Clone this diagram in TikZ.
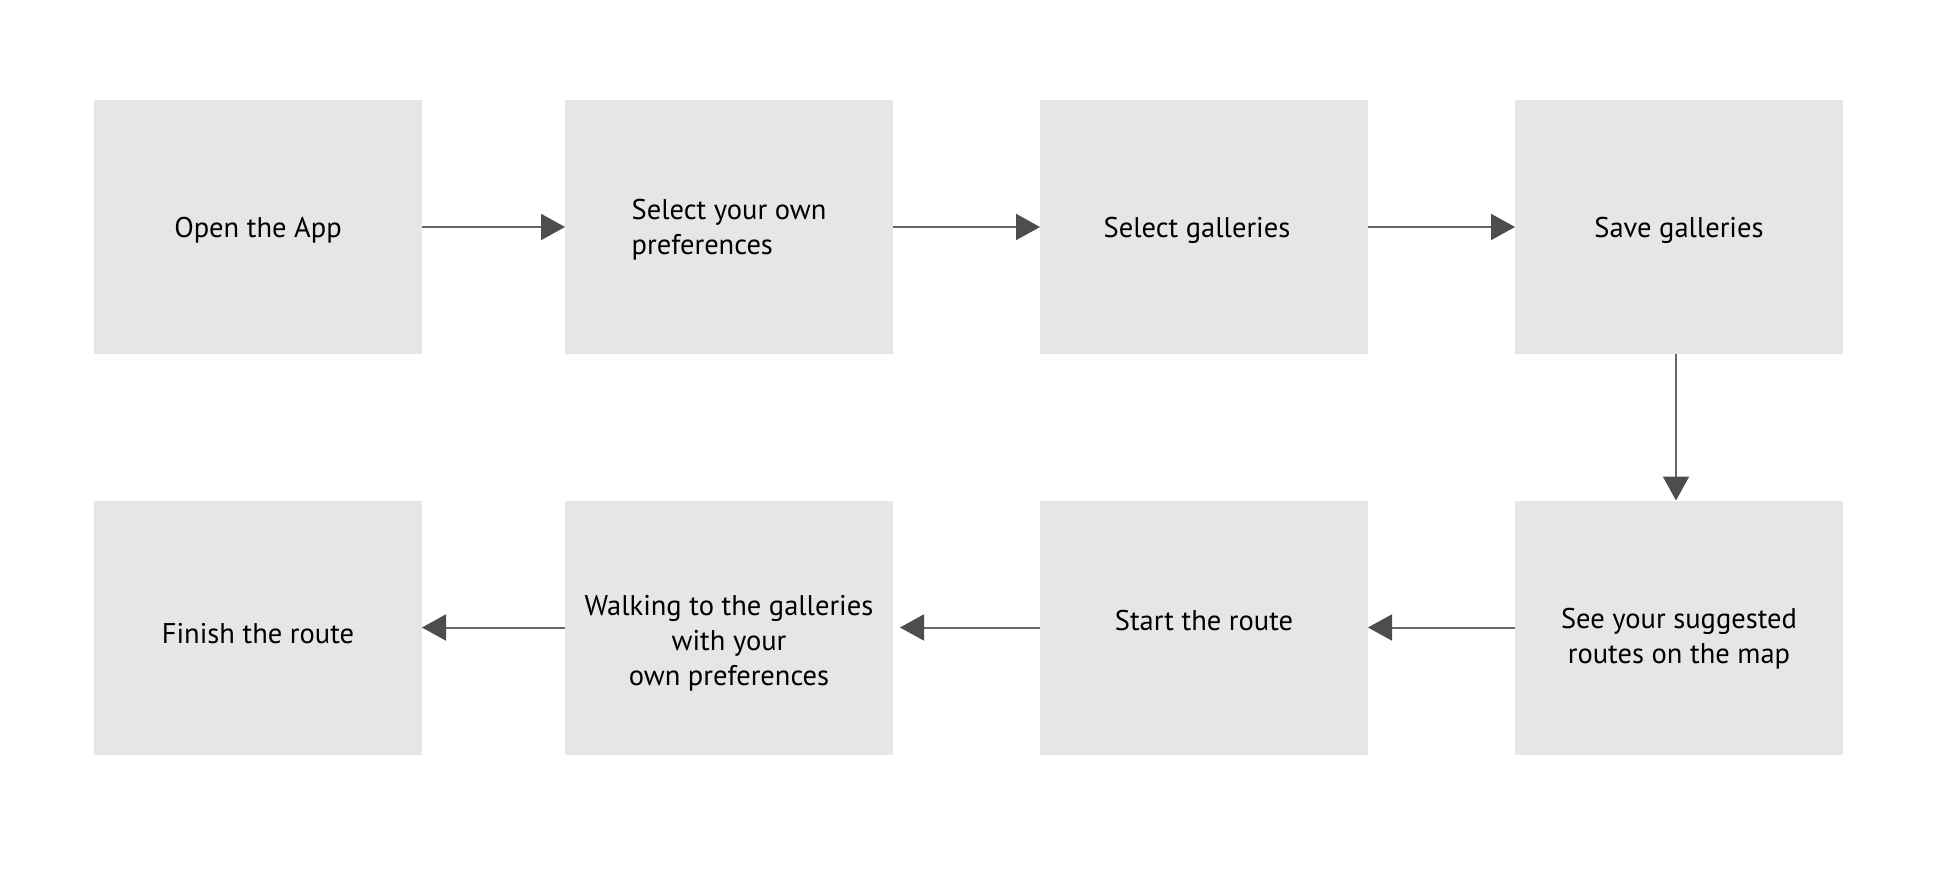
\documentclass[tikz,border=0pt]{standalone}
\usepackage{fontspec}
\setmainfont{PT Sans}
\usetikzlibrary{arrows.meta}
\definecolor{boxgray}{HTML}{E6E6E6}
\definecolor{linegray}{HTML}{666666}
\definecolor{headgray}{HTML}{4D4D4D}
\tikzset{
  stepbox/.style={fill=boxgray, draw=none, minimum width=328pt, minimum height=254pt, inner sep=0pt, outer sep=0pt},
  steptext/.style={font=\fontsize{28.5pt}{35pt}\selectfont, text=black, align=center, inner sep=0pt, yshift=-3pt},
  flow/.style={draw=linegray, line width=2pt, -{Triangle[length=24pt,width=26pt,fill=headgray,color=headgray]}}
}
\begin{document}
\begin{tikzpicture}[x=1pt,y=-1pt]
\useasboundingbox[fill=white] (0,0) rectangle (1960,874);
% row 1
\node[stepbox] (b1) at (258,227) {};
\node[stepbox] (b2) at (729,227) {};
\node[stepbox] (b3) at (1204,227) {};
\node[stepbox] (b4) at (1679,227) {};
% row 2
\node[stepbox] (b5) at (258,627.5) {};
\node[stepbox] (b6) at (729,627.5) {};
\node[stepbox] (b7) at (1204,627.5) {};
\node[stepbox] (b8) at (1679,627.5) {};
% texts
\node[steptext] (t1) at (258,227) {Open the App};
\node[steptext, align=left] (t2) at (729,227) {Select your own\\preferences};
\node[steptext] (t3) at (1197,227) {Select galleries};
\node[steptext] (t4) at (1679,227) {Save galleries};
\node[steptext] (t8) at (1679,636) {See your suggested\\routes on the map};
\node[steptext] (t7) at (1204,618) {Start the route};
\node[steptext] (t6) at (729,640) {Walking to the galleries\\with your\\own preferences};
\node[steptext] (t5) at (258,631) {Finish the route};
% connectors
\draw[flow] (b1.east) -- (b2.west);
\draw[flow] (b2.east) -- (b3.west);
\draw[flow] (b3.east) -- (b4.west);
\draw[flow] ([xshift=-3pt]b4.south) -- ([xshift=-3pt]b8.north);
\draw[flow] (b8.west) -- (b7.east);
\draw[flow, shorten >=7pt] (b7.west) -- (b6.east);
\draw[flow] (b6.west) -- (b5.east);
\end{tikzpicture}
\end{document}
